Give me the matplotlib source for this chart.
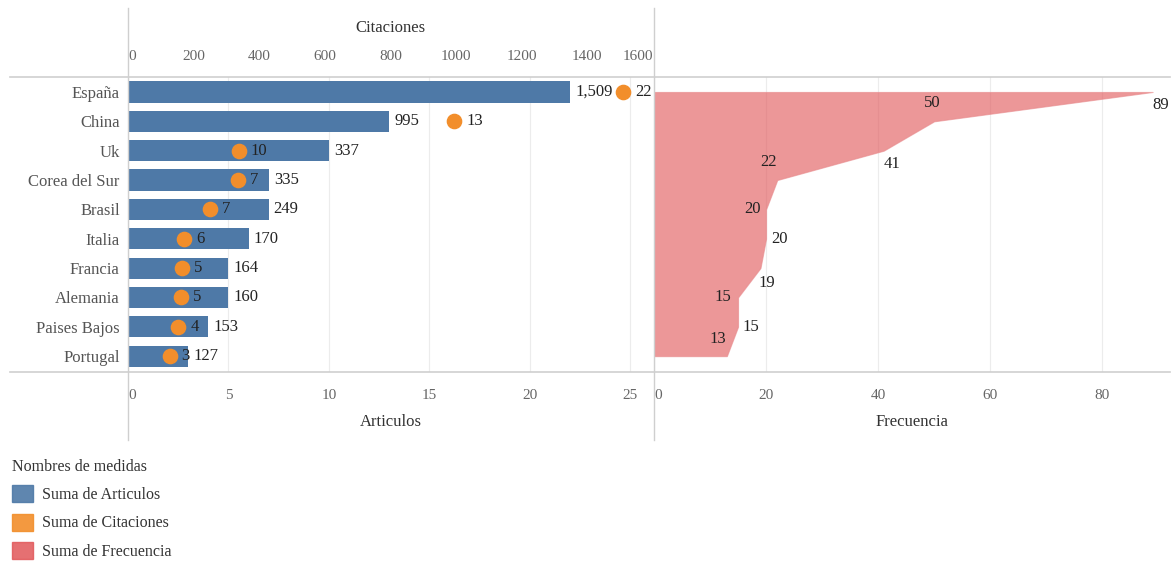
import matplotlib.pyplot as plt
from matplotlib.lines import Line2D
from matplotlib.patches import Patch

plt.rcParams['font.family'] = ['Liberation Serif', 'DejaVu Serif']

paises = ['España', 'China', 'Uk', 'Corea del Sur', 'Brasil', 'Italia',
          'Francia', 'Alemania', 'Paises Bajos', 'Portugal']
articulos = [22, 13, 10, 7, 7, 6, 5, 5, 4, 3]
citaciones = [1509, 995, 337, 335, 249, 170, 164, 160, 153, 127]
frecuencia = [89, 50, 41, 22, 20, 20, 19, 15, 15, 13]

azul = '#4e79a7'
naranja = '#f28e2b'
rojo = '#e15759'
gris_txt = '#555555'

W, H = 1171, 561
fig = plt.figure(figsize=(W / 100, H / 100), dpi=100)

def fx(px):
    return px / W

def fy(py):
    return 1 - py / H

y = list(range(len(paises)))
bottom, top = fy(372), fy(77)
fs_lab = 12
fs_tick = 11

# panel izquierdo: barras (articulos) + puntos (citaciones)
ax1 = fig.add_axes([fx(128), bottom, fx(653) - fx(128), top - bottom])
ax1.barh(y, articulos, height=0.72, color=azul, zorder=2)
ax1.set_xlim(0, 26.12)
ax1.set_ylim(9.54, -0.51)
ax1.set_yticks(y)
ax1.set_yticklabels(paises, fontsize=fs_lab)
ax1.set_xticks([0, 5, 10, 15, 20, 25])
ax1.tick_params(axis='both', length=0, labelcolor='#666666', labelsize=fs_tick)
ax1.tick_params(axis='x', pad=12)
ax1.tick_params(axis='y', pad=6, labelcolor=gris_txt, labelsize=fs_lab)
ax1.set_xlabel('Articulos', fontsize=fs_lab, labelpad=9, color='#333333')
ax1.grid(axis='x', color='#ececec', lw=0.8, zorder=0)
ax1.get_xticklabels()[0].set_horizontalalignment('left')
for i, (a, c) in enumerate(zip(articulos, citaciones)):
    ax1.annotate(f'{c:,}', (a, i), xytext=(5, 0), textcoords='offset pixels',
                 va='center', ha='left', fontsize=fs_lab, color='#222222', zorder=5)

ax1t = ax1.twiny()
ax1t.set_xlim(0, 1600)
ax1t.scatter(citaciones, y, s=105, color=naranja, zorder=4)
ax1t.set_xticks([0, 200, 400, 600, 800, 1000, 1200, 1400, 1600])
ax1t.tick_params(axis='x', length=0, labelcolor='#666666', labelsize=fs_tick, pad=10)
tl = ax1t.get_xticklabels()
tl[0].set_horizontalalignment('left')
tl[-1].set_horizontalalignment('right')
ax1t.set_xlabel('Citaciones', fontsize=fs_lab, labelpad=13, color='#333333')
for i, (a, c) in enumerate(zip(articulos, citaciones)):
    ax1t.annotate(str(a), (c, i), xytext=(12, 0), textcoords='offset pixels',
                  va='center', ha='left', fontsize=fs_lab, color='#222222', zorder=5)

# panel derecho: area de frecuencia
ax2 = fig.add_axes([fx(654), bottom, fx(1170) - fx(654), top - bottom])
ax2.fill_betweenx(y, 0, frecuencia, color=rojo, alpha=0.62, lw=0.8,
                  edgecolor='#e88a8c', zorder=2)
ax2.set_xlim(0, 92.1)
ax2.set_ylim(9.54, -0.51)
ax2.set_yticks([])
ax2.set_xticks([0, 20, 40, 60, 80])
ax2.tick_params(axis='x', length=0, labelcolor='#666666', labelsize=fs_tick, pad=12)
ax2.get_xticklabels()[0].set_horizontalalignment('left')
ax2.set_xlabel('Frecuencia', fontsize=fs_lab, labelpad=9, color='#333333')
ax2.grid(axis='x', color='#ececec', lw=0.8, zorder=0)
offs = [(8, -13), (-2, 18), (8, -13), (-9, 18), (-14, 0), (13, 0),
        (6, -15), (-15, 0), (13, 0), (-9, 17)]
for i, (f, o) in enumerate(zip(frecuencia, offs)):
    ax2.annotate(str(f), (f, i), xytext=o, textcoords='offset pixels',
                 va='center', ha='center', fontsize=fs_lab, color='#222222', zorder=5)

for ax in (ax1, ax1t, ax2):
    for s in ax.spines.values():
        s.set_visible(False)

# separadores
lc = '#cfcfcf'
fig.add_artist(Line2D([fx(10), fx(1170)], [fy(77), fy(77)], color=lc, lw=1.2))
fig.add_artist(Line2D([fx(10), fx(1170)], [fy(372), fy(372)], color=lc, lw=1.2))
fig.add_artist(Line2D([fx(128), fx(128)], [fy(8), fy(440)], color=lc, lw=1.0))
fig.add_artist(Line2D([fx(654), fx(654)], [fy(8), fy(440)], color=lc, lw=1.0))

handles = [Patch(color=azul, alpha=0.9), Patch(color=naranja, alpha=0.9),
           Patch(color=rojo, alpha=0.85)]
leg = fig.legend(handles, ['Suma de Articulos', 'Suma de Citaciones', 'Suma de Frecuencia'],
                 loc='upper left', bbox_to_anchor=(fx(-1), fy(446)), frameon=False,
                 title='Nombres de medidas', alignment='left', fontsize=11.5,
                 title_fontsize=11.5, handlelength=1.35, handleheight=1.25,
                 labelspacing=0.66, handletextpad=0.55, borderpad=0.3)
for t in leg.get_texts():
    t.set_color('#333333')
leg.get_title().set_color('#333333')

fig.savefig('out.png', dpi=100)
